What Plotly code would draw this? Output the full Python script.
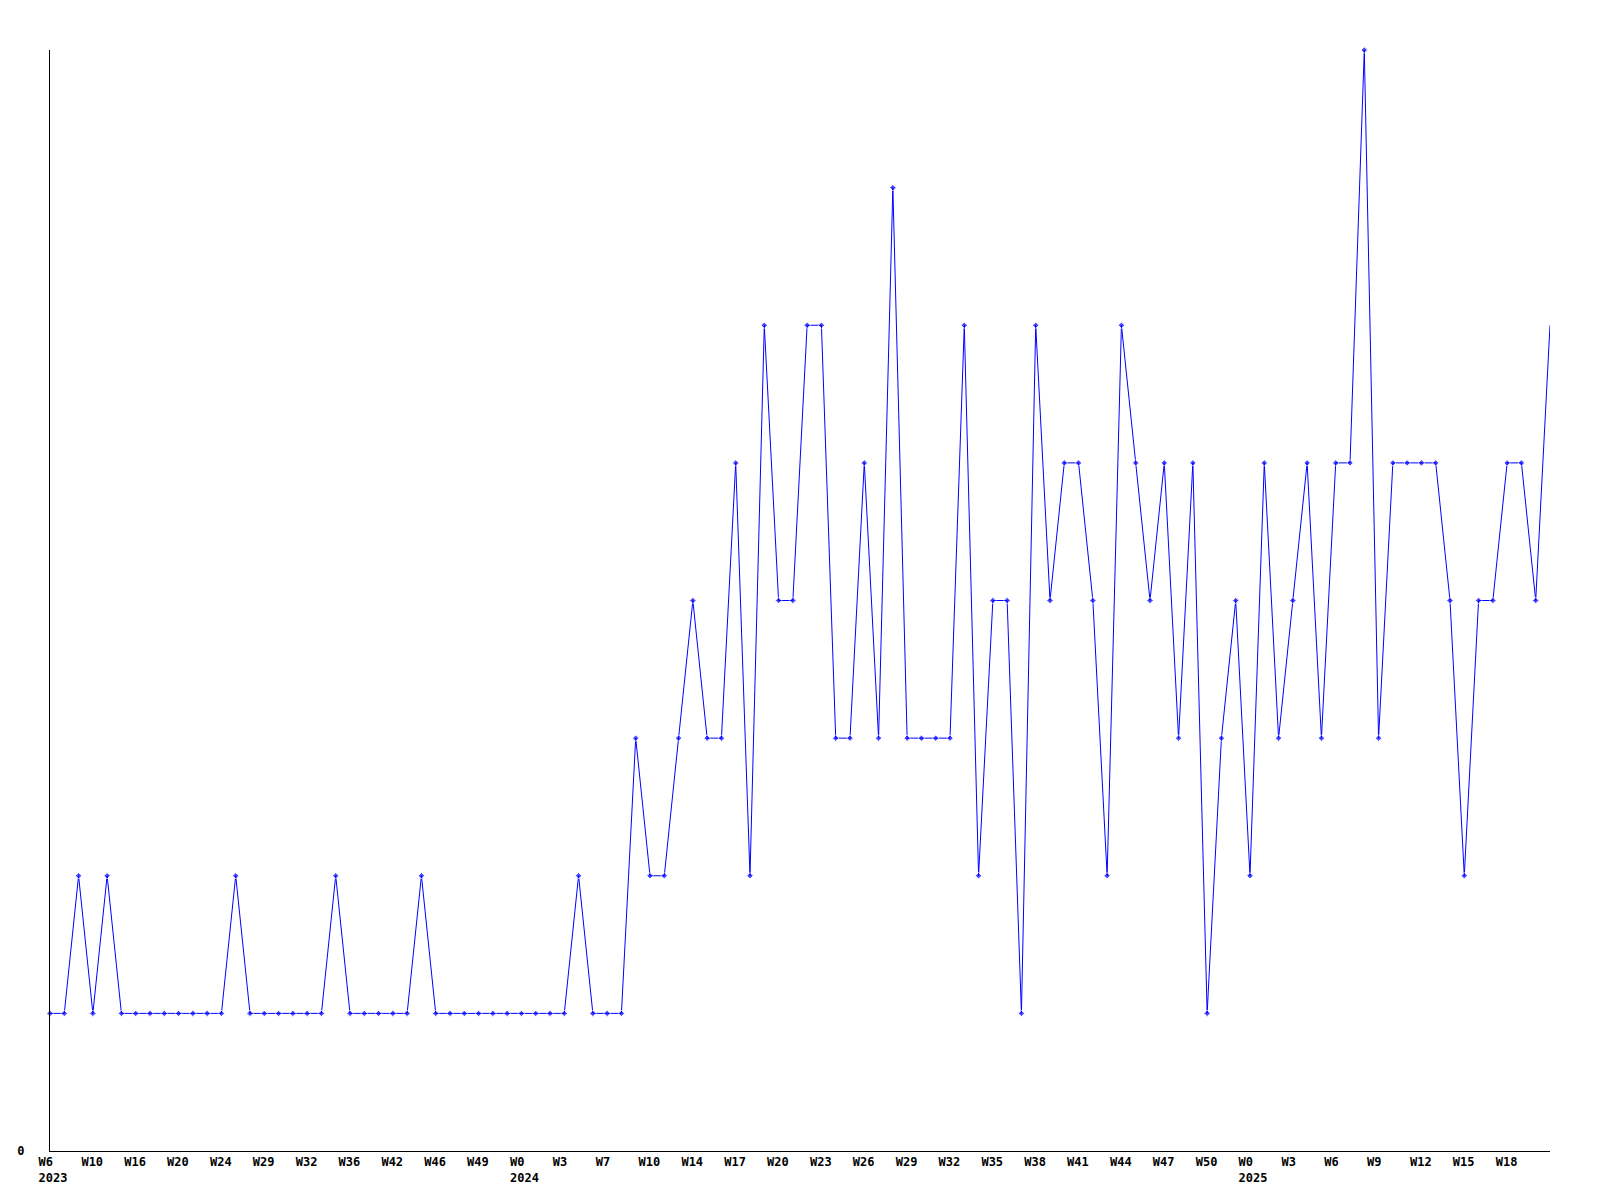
import plotly.graph_objects as go

# Weekly values (one point per week present in the data)
values = [
    1, 1, 2, 1, 2, 1, 1, 1, 1, 1, 1, 1, 1,
    2, 1, 1, 1, 1, 1, 1,
    2, 1, 1, 1, 1, 1,
    2, 1, 1, 1, 1, 1, 1, 1, 1, 1, 1,
    2, 1, 1, 1,
    3, 2, 2, 3, 4, 3, 3, 5, 2, 6,
    4, 4, 6, 6, 3, 3, 5, 3, 7, 3,
    3, 3, 3, 6, 2, 4, 4, 1, 6, 4,
    5, 5, 4, 2, 6, 5, 4, 5, 3, 5,
    1, 3, 4, 2, 5, 3, 4, 5, 3, 5,
    5, 8, 3, 5, 5, 5, 5, 4, 2, 4,
    4, 5, 5, 4, 6,
]

# Tick labels, one for every third point
tick_weeks = ["W6", "W10", "W16", "W20", "W24", "W29", "W32", "W36", "W42", "W46", "W49",
              "W0", "W3", "W7", "W10", "W14", "W17", "W20", "W23", "W26", "W29", "W32",
              "W35", "W38", "W41", "W44", "W47", "W50",
              "W0", "W3", "W6", "W9", "W12", "W15", "W18"]
tick_years = {0: "2023", 11: "2024", 28: "2025"}
TICK_STEP = 3

n = len(values)
x = list(range(n))
NB = "\u00a0"
tickvals = [i * TICK_STEP for i in range(len(tick_weeks))]
ticktext = []
for i, w in enumerate(tick_weeks):
    t = w + NB * (4 - len(w))
    if i in tick_years:
        t += "<br>" + tick_years[i]
    ticktext.append(t)

marker_sizes = [5] * (n - 1) + [0]

fig = go.Figure()
fig.add_trace(go.Scatter(
    x=x, y=values, mode="lines+markers",
    line=dict(color="#0000ff", width=1),
    marker=dict(symbol="diamond", size=marker_sizes, color="#0000ff"),
    cliponaxis=False,
    hoverinfo="skip",
))

font = dict(family="DejaVu Sans Mono", size=12, color="#000000", weight="bold")

fig.update_layout(
    width=1600, height=1200,
    margin=dict(l=50, r=50, t=50, b=49, pad=0),
    paper_bgcolor="white", plot_bgcolor="white",
    showlegend=False,
    xaxis=dict(
        range=[0, n - 1], showgrid=False, zeroline=False,
        showline=True, linecolor="#000000", linewidth=1,
        tickmode="array", tickvals=tickvals, ticktext=ticktext,
        ticks="", tickfont=font, ticklabelshift=3, ticklabelstandoff=0,
    ),
    yaxis=dict(
        range=[0, 8], showgrid=False, zeroline=False,
        showline=True, linecolor="#000000", linewidth=1,
        tickmode="array", tickvals=[0], ticktext=["0"],
        ticks="", tickfont=font, ticklabelstandoff=22,
    ),
)

fig.write_html("out.html", config={"displayModeBar": False},
               post_script="document.body.style.margin='0';")
